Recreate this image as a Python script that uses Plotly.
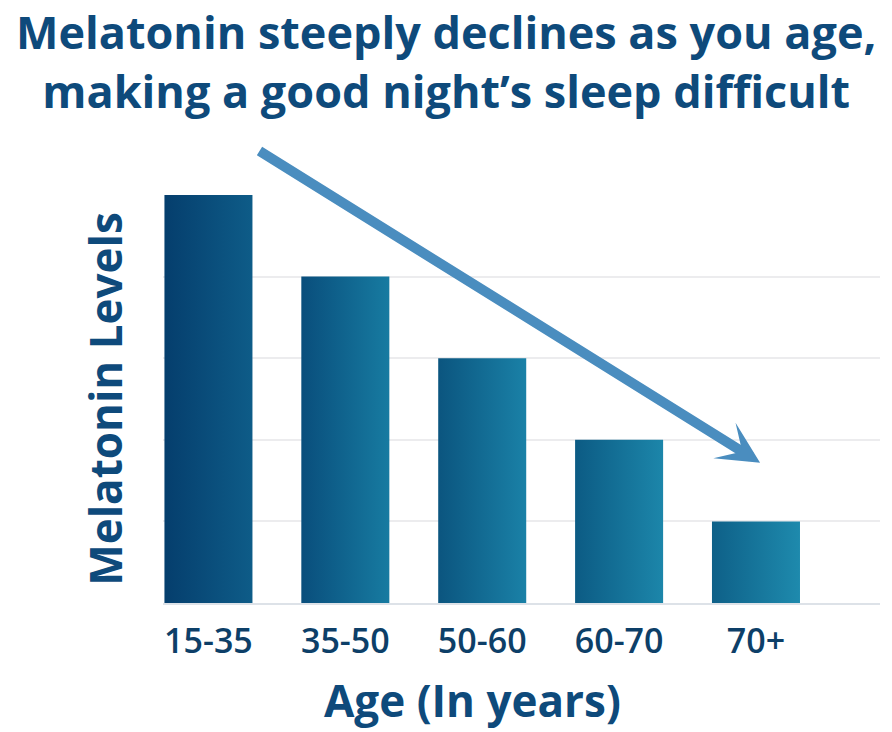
import plotly.graph_objects as go

# data
age_groups = ["15-35", "35-50", "50-60", "60-70", "70+"]
melatonin = [5, 4, 3, 2, 1]

# per-bar horizontal gradient (left edge, right edge)
left_colors = ["#053e6d", "#094e7c", "#0b557f", "#0c5b84", "#0e6088"]
right_colors = ["#0e5c88", "#177ba1", "#1a81a7", "#1c86aa", "#1e8aad"]

navy = "#0e4a7b"
font_family = "Open Sans, Noto Sans, sans-serif"
bar_width = 0.643

# the page body adds an 8px margin, so target pixels are shifted back by it
OFF = 8
L, R, T, B = 163 - OFF, 880 - OFF, 195 - OFF, 603 - OFF


def px_x(p):
    return (p - OFF - L) / (R - L)


def px_y(p):
    return (B - (p - OFF)) / (B - T)


fig = go.Figure()
for i, (name, val) in enumerate(zip(age_groups, melatonin)):
    x0, x1 = i - bar_width / 2, i + bar_width / 2
    fig.add_trace(go.Scatter(
        x=[x0, x1, x1, x0, x0],
        y=[0, 0, val, val, 0],
        mode="none",
        fill="toself",
        fillgradient=dict(type="horizontal",
                          colorscale=[[0, left_colors[i]], [1, right_colors[i]]]),
        name=name,
        hoverinfo="skip",
        showlegend=False,
    ))

# trend arrow
fig.add_annotation(
    x=4.03, y=1.72, ax=0.362, ay=5.55,
    xref="x", yref="y", axref="x", ayref="y",
    text="", showarrow=True,
    arrowhead=3, arrowsize=0.7, arrowwidth=10, arrowcolor="#4a8dbf",
    standoff=0,
)

# headline
fig.add_annotation(
    text="Melatonin steeply declines as you age,<br>making a good night’s sleep difficult",
    x=px_x(446), y=px_y(61), xref="paper", yref="paper",
    xanchor="center", yanchor="middle", showarrow=False,
    font=dict(family=font_family, size=45, color=navy, weight=700),
)

# x axis title, placed like the original (not centred on the plot area)
fig.add_annotation(
    text="Age (In years)", x=px_x(472), y=px_y(700), xref="paper", yref="paper",
    showarrow=False, xanchor="center", yanchor="middle",
    font=dict(family=font_family, size=44, color=navy, weight=700),
)

fig.update_layout(
    width=892, height=732,
    margin=dict(l=L, r=892 - R, t=T, b=732 - B, autoexpand=False),
    paper_bgcolor="white", plot_bgcolor="white",
    xaxis=dict(
        range=[-0.332, 4.906], automargin=False,
        tickvals=list(range(len(age_groups))), ticktext=age_groups,
        tickfont=dict(family=font_family, size=34, color="#0d3f68", weight=600),
        showgrid=False, zeroline=False,
        showline=True, linecolor="#dde2e8", linewidth=2,
        ticks="outside", ticklen=7, tickcolor="rgba(0,0,0,0)",
    ),
    yaxis=dict(
        range=[0, 5], dtick=1, automargin=False,
        showticklabels=False,
        showgrid=True, gridcolor="#ececee", gridwidth=1.5,
        zeroline=False,
        title=dict(text="Melatonin Levels", standoff=25,
                   font=dict(family=font_family, size=44, color=navy, weight=700)),
    ),
)

fig.write_html("out.html")
